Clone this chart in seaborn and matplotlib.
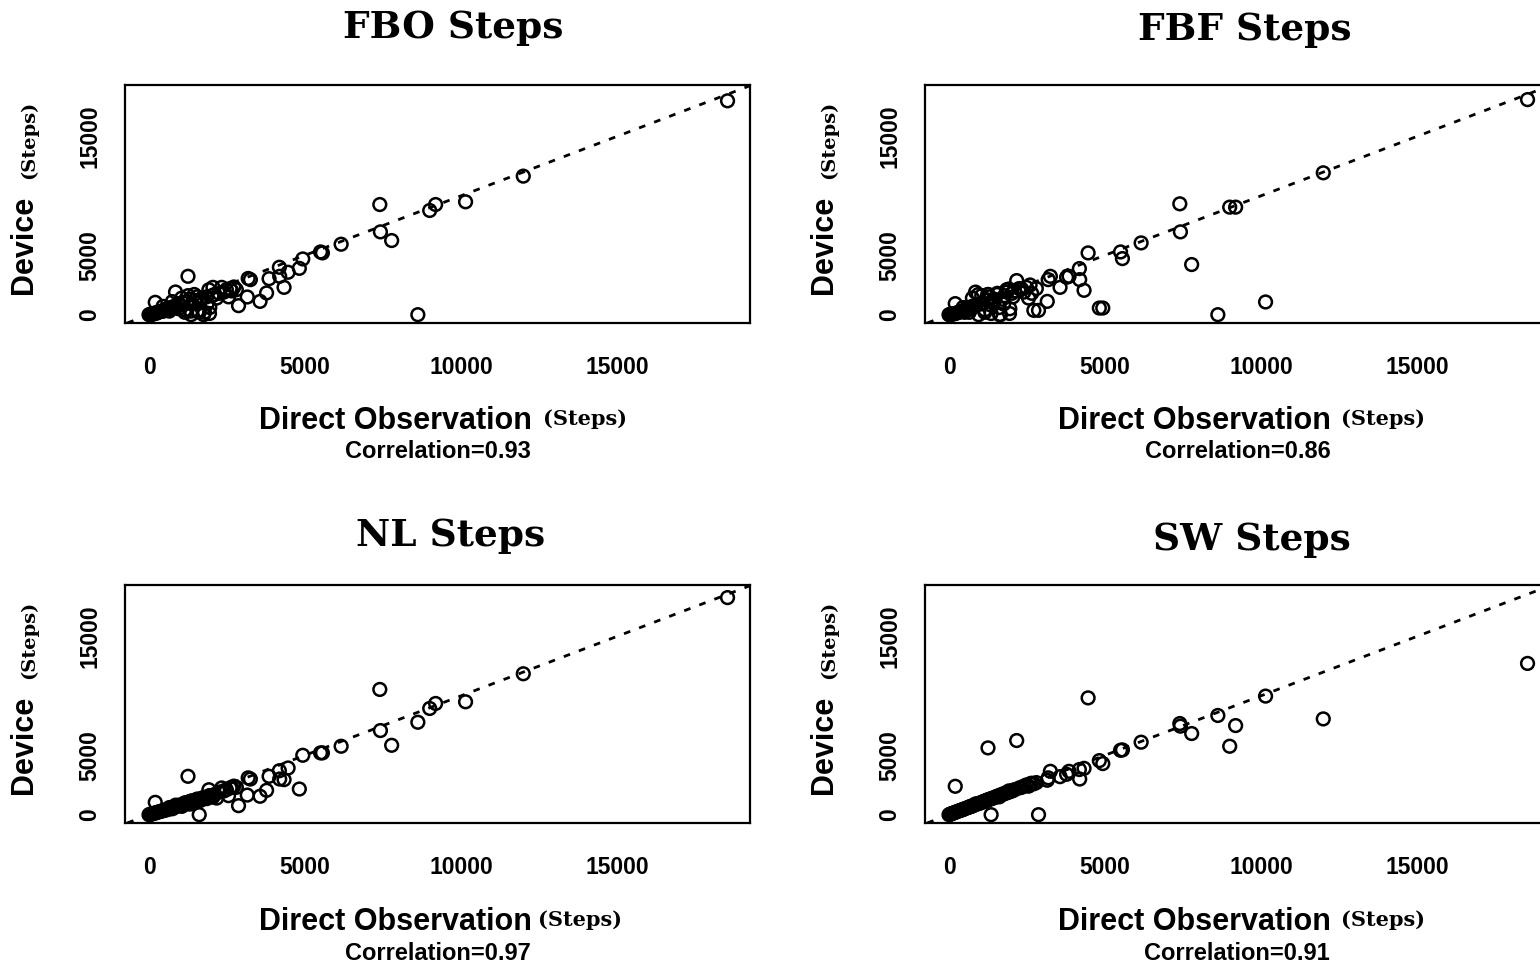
import matplotlib
matplotlib.use("Agg")
import matplotlib.pyplot as plt
import seaborn as sns
import pandas as pd

# ---------------- data ----------------
titles = ["FBO Steps", "FBF Steps", "NL Steps", "SW Steps"]
correlations = ["0.93", "0.86", "0.97", "0.91"]
x_ticks = [0, 5000, 10000, 15000]
y_ticks = [0, 5000, 10000, 15000]
y_tick_labels = ["0", "5000", "", "15000"]

direct_obs = [18550, 12000, 10150, 9190, 9000, 8620, 7780, 7400, 7420, 6160,
              5500, 5560, 4930, 4820, 4460, 4330, 4180, 4190, 3850, 3770,
              3560, 3250, 3180, 3150, 2870, 2720, 2800, 2550, 2330, 2170,
              1920, 1250, 1350, 1610, 850, 200,
              0, 30, 60, 90, 120, 160, 200, 240, 290, 340,
              390, 440, 500, 560, 620, 680, 740, 800, 870, 940,
              1010, 1080, 1150, 1220, 1300, 1380, 1460, 1540, 1620, 1700,
              1780, 1860, 1940, 2020, 2100, 2250, 2400, 2480, 2600, 2650,
              450, 650, 750, 950, 1050, 1150, 1250, 1350, 1450, 1550,
              1650, 1750, 1850, 1950, 2050]

fbo = [18000, 11660, 9500, 9270, 8770, 0, 6240, 9270, 6970, 5930,
       5280, 5200, 4690, 3900, 3570, 2300, 3990, 3230, 3030, 1830,
       1120, 2950, 3050, 1490, 760, 2330, 2100, 1500, 2300, 1400,
       2100, 3230, 300, 200, 1910, 1040,
       0, 20, 40, 0, 80, 100, 150, 120, 200, 250,
       300, 280, 350, 500, 420, 600, 550, 700, 650, 900,
       800, 1000, 400, 1100, 1300, 900, 1200, 1500, 1000, 1400,
       200, 900, 100, 1600, 1700, 1800, 1900, 2100, 2200, 2000,
       700, 300, 1100, 500, 1400, 200, 1600, 0, 1700, 300,
       1200, 0, 1500, 600, 2300]

fbf = [18100, 11940, 1070, 9050, 9050, 0, 4220, 9330, 6970, 6040,
       5280, 4720, 560, 560, 5200, 2050, 3880, 2950, 3230, 3150,
       2300, 3230, 2950, 1120, 365, 365, 2200, 1400, 2150, 2870,
       2160, 1700, 800, 600, 1900, 930,
       0, 10, 30, 60, 50, 80, 100, 140, 180, 230,
       260, 300, 200, 480, 600, 500, 700, 650, 800, 1700,
       900, 1000, 200, 1200, 1500, 1100, 1300, 1700, 0, 1300,
       1600, 1900, 100, 1800, 2000, 2200, 1900, 2300, 2500, 1800,
       600, 200, 1400, 0, 1600, 400, 1700, 100, 1100, 1800,
       0, 900, 2100, 500, 1500]

nl = [18270, 11860, 9500, 9360, 8940, 7780, 5840, 10540, 7080, 5760,
      5200, 5200, 5000, 2160, 3930, 2950, 3700, 3000, 3230, 2050,
      1550, 3000, 3100, 1650, 760, 2400, 2300, 1600, 2250, 1400,
      2100, 3230, 900, 0, 800, 1040,
      0, 20, 30, 60, 90, 110, 150, 170, 220, 260,
      290, 330, 380, 400, 480, 500, 560, 600, 700, 750,
      800, 850, 950, 1000, 1100, 1150, 1200, 1300, 1250, 1400,
      1450, 1500, 1600, 1500, 1700, 1900, 2000, 2100, 2250, 2300,
      350, 600, 500, 800, 700, 1000, 900, 1150, 1000, 1300,
      1200, 1400, 1350, 1600, 1500]

sw = [12730, 8060, 9980, 7500, 5760, 8350, 6830, 7670, 7450, 6100,
      5420, 5450, 4300, 4550, 9830, 3900, 3800, 3000, 3650, 3400,
      3200, 3650, 3100, 2900, 0, 2600, 2700, 2400, 2300, 6240,
      2000, 5620, 0, 1500, 900, 2390,
      0, 30, 60, 90, 120, 160, 200, 240, 290, 340,
      380, 440, 500, 550, 620, 680, 730, 800, 880, 930,
      1000, 1080, 1150, 1230, 1300, 1370, 1460, 1550, 1600, 1700,
      1800, 1850, 1950, 2000, 2100, 2250, 2400, 2500, 2600, 2650,
      430, 640, 730, 940, 1040, 1130, 1240, 1350, 1430, 1540,
      1660, 1730, 1850, 1930, 2040]

device_series = [fbo, fbf, nl, sw]

# ---------------- layout ----------------
W, H = 1540, 968
sns.set_theme(style="white")
plt.rcParams["font.family"] = ["Liberation Sans", "DejaVu Sans"]
plt.rcParams["text.color"] = "black"
plt.rcParams["axes.labelcolor"] = "black"
plt.rcParams["xtick.color"] = "black"
plt.rcParams["ytick.color"] = "black"

fig = plt.figure(figsize=(W / 100, H / 100), dpi=100)
fig.patch.set_facecolor("white")

def fx(px):
    return px / W

def fy(py):
    return 1 - py / H

panel_px = [(125, 85), (925, 85), (125, 585), (925, 585)]
title_px = [(453, 27), (1245, 30), (451, 535), (1252, 540)]
xlab_px = [(259, 543, 421), (1058, 1341, 421), (259, 538, 922), (1058, 1341, 922)]
corr_px = [(438, 452), (1238, 452), (438, 953), (1237, 953)]
ylab_px = [(24, 29, 245, 140), (824, 829, 245, 140), (24, 29, 745, 640), (824, 829, 745, 640)]

aw, ah = 625, 238
serif = ["DejaVu Serif"]

for i in range(4):
    lx, ty = panel_px[i]
    ax = fig.add_axes([fx(lx), fy(ty + ah), aw / W, ah / H])
    df = pd.DataFrame({"obs": direct_obs, "dev": device_series[i]})
    sns.scatterplot(data=df, x="obs", y="dev", ax=ax, marker="o",
                    facecolor="none", edgecolor="black", s=84, linewidth=1.8,
                    legend=False, zorder=3)
    ax.axline((0, 0), slope=1, color="black", lw=2.0, ls=(0, (2.4, 3.4)), zorder=2)
    ax.set_xlim(-770, 19270)
    ax.set_ylim(-700, 19330)
    ax.set_xticks(x_ticks)
    ax.set_xticklabels([str(v) for v in x_ticks])
    ax.set_yticks(y_ticks)
    ax.set_yticklabels(y_tick_labels)
    ax.set_xlabel("")
    ax.set_ylabel("")
    ax.tick_params(axis="both", direction="out", length=11, width=1.5,
                   color="black", labelsize=16.5, labelcolor="black")
    ax.tick_params(axis="x", pad=13)
    ax.tick_params(axis="y", pad=6, labelrotation=90)
    for lab in ax.get_xticklabels() + ax.get_yticklabels():
        lab.set_fontweight("bold")
    for lab in ax.get_yticklabels():
        lab.set_va("center")
    for sp in ax.spines.values():
        sp.set_visible(True)
        sp.set_color("black")
        sp.set_linewidth(1.6)
    ax.grid(False)

    # title
    tx, tyy = title_px[i]
    fig.text(fx(tx), fy(tyy), titles[i], ha="center", va="center",
             fontsize=27, fontweight="bold", family=serif, color="black")
    # x label
    dx, sx, yy = xlab_px[i]
    fig.text(fx(dx), fy(yy), "Direct Observation", ha="left", va="center",
             fontsize=22, fontweight="bold", color="black")
    fig.text(fx(sx), fy(yy - 2), "(Steps)", ha="left", va="center",
             fontsize=15, fontweight="bold", family=serif, color="black")
    cx, cy = corr_px[i]
    fig.text(fx(cx), fy(cy), "Correlation=" + correlations[i], ha="center",
             va="center", fontsize=17, fontweight="bold", color="black")
    # y label
    dvx, stx, dvy, sty = ylab_px[i]
    fig.text(fx(dvx), fy(dvy), "Device", ha="center", va="center", rotation=90,
             fontsize=22, fontweight="bold", color="black")
    fig.text(fx(stx), fy(sty), "(Steps)", ha="center", va="center", rotation=90,
             fontsize=14, fontweight="bold", family=serif, color="black")

fig.savefig("out.png", dpi=100, facecolor="white")
